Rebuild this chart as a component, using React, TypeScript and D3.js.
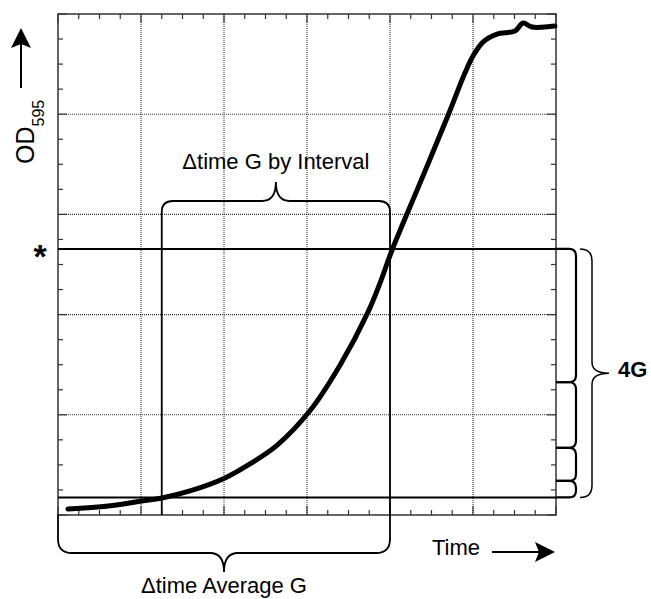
import React from 'react';
import * as d3 from 'd3';

// growth curve (time in arbitrary units, OD595)
const curveTime = [0.48, 2.41, 4.05, 5.01, 6.36, 8.05, 9.25, 10.55, 12.14, 13.59, 14.94, 15.52, 16.1, 17.45, 18.8, 19.61, 20.0, 20.48, 21.16, 22.02, 22.41, 22.84, 23.95];
const curveOD = [0.012, 0.018, 0.028, 0.034, 0.048, 0.074, 0.102, 0.139, 0.208, 0.299, 0.405, 0.463, 0.529, 0.663, 0.798, 0.882, 0.916, 0.944, 0.96, 0.966, 0.982, 0.974, 0.976];

// OD levels of the doublings (bottom line ... star line)
const doublingOD = [0.035, 0.068, 0.134, 0.265, 0.531];

const averageStart = 0;
const intervalStart = 5;
const intervalEnd = 16;

const xMax = 24;
const yMax = 1;

const font = '"Liberation Sans", Arial, Helvetica, sans-serif';

function App() {
  const x = d3.scaleLinear().domain([0, xMax]).range([58, 556]);
  const y = d3.scaleLinear().domain([0, yMax]).range([515, 14]);

  const points: [number, number][] = curveTime.map((t, i) => [t, curveOD[i]]);
  const line = d3.line<[number, number]>()
    .x(d => x(d[0]))
    .y(d => y(d[1]))
    .curve(d3.curveCatmullRom.alpha(0.5));

  const xTicks = x.ticks(24);
  const yTicks = y.ticks(20);
  const isMajorX = (v: number) => Math.abs(v / 4 - Math.round(v / 4)) < 1e-6;
  const isMajorY = (v: number) => Math.abs(v * 5 - Math.round(v * 5)) < 1e-6;

  const [x0, x1] = x.range();
  const [yb, yt] = y.range();

  // top brace with the two interval lines
  const xa = x(intervalStart), xe = x(intervalEnd), xm = (xa + xe) / 2;
  const by = 201, tip = 182, r = 11;
  const topBrace = `M${xa},${yb} V${by + r} Q${xa},${by} ${xa + r},${by} H${xm - 14} Q${xm},${by} ${xm},${tip} Q${xm},${by} ${xm + 14},${by} H${xe - r} Q${xe},${by} ${xe},${by + r} V${540}`;

  // bottom brace
  const xs = x(averageStart), xbm = (xs + xe) / 2;
  const bb = 553, btip = 572;
  const bottomBrace = `M${xs},${yb} V${bb - 14} Q${xs},${bb} ${xs + 14},${bb} H${xbm - 14} Q${xbm},${bb} ${xbm},${btip} Q${xbm},${bb} ${xbm + 14},${bb} H${xe - 14} Q${xe},${bb} ${xe},${bb - 14}`;

  // small braces along the right axis, one per doubling
  const vx = 576;
  const smallBraces = doublingOD.slice(0, -1).map((od, i) => {
    const ytop = y(doublingOD[i + 1]);
    const ybot = y(od);
    const rr = Math.min(7, (ybot - ytop) / 2 - 1);
    return `M${x1},${ytop} H${vx - rr} Q${vx},${ytop} ${vx},${ytop + rr} V${ybot - rr} Q${vx},${ybot} ${vx - rr},${ybot} H${x1}`;
  });

  // big 4G brace
  const gTop = y(doublingOD[doublingOD.length - 1]);
  const gBot = y(doublingOD[0]);
  const gMid = (gTop + gBot) / 2;
  const bigBrace = `M580,${gTop} Q592,${gTop} 592,${gTop + 12} V${gMid - 11} Q592,${gMid} 609,${gMid} Q592,${gMid} 592,${gMid + 11} V${gBot - 12} Q592,${gBot} 580,${gBot}`;

  return (
    <svg width={651} height={599} style={{ position: 'absolute', left: 0, top: 0, background: '#fff' }} fontFamily={font}>
      {/* dotted grid */}
      <g stroke="#333" strokeWidth={1.1} strokeDasharray="1 1">
        {xTicks.filter(v => isMajorX(v) && v > 0 && v < xMax).map(v => (
          <line key={'gx' + v} x1={x(v)} x2={x(v)} y1={yt} y2={yb} />
        ))}
        {yTicks.filter(v => isMajorY(v) && v > 0 && v < yMax).map(v => (
          <line key={'gy' + v} x1={x0} x2={x1} y1={y(v)} y2={y(v)} />
        ))}
      </g>

      {/* ticks on all four sides */}
      <g stroke="#333" strokeWidth={1.2}>
        {xTicks.map(v => {
          const len = isMajorX(v) ? 9 : 5;
          return (
            <g key={'tx' + v}>
              <line x1={x(v)} x2={x(v)} y1={yb} y2={yb - len} />
              <line x1={x(v)} x2={x(v)} y1={yt} y2={yt + len} />
            </g>
          );
        })}
        {yTicks.map(v => {
          const len = isMajorY(v) ? 9 : 5;
          return (
            <g key={'ty' + v}>
              <line x1={x0} x2={x0 + len} y1={y(v)} y2={y(v)} />
              <line x1={x1} x2={x1 - len} y1={y(v)} y2={y(v)} />
            </g>
          );
        })}
      </g>

      <rect x={x0} y={yt} width={x1 - x0} height={yb - yt} fill="none" stroke="#333" strokeWidth={1.5} />

      {/* doubling reference lines */}
      <g stroke="#000" strokeWidth={2}>
        <line x1={x0} x2={x1} y1={y(doublingOD[0])} y2={y(doublingOD[0])} />
        <line x1={x0} x2={x1} y1={gTop} y2={gTop} />
      </g>

      <path d={topBrace} fill="none" stroke="#000" strokeWidth={1.8} />
      <path d={bottomBrace} fill="none" stroke="#000" strokeWidth={1.8} />
      {smallBraces.map((d, i) => (
        <path key={'sb' + i} d={d} fill="none" stroke="#000" strokeWidth={2.2} />
      ))}
      <path d={bigBrace} fill="none" stroke="#000" strokeWidth={1.5} />

      {/* growth curve */}
      <path d={line(points) || ''} fill="none" stroke="#000" strokeWidth={5} strokeLinejoin="round" strokeLinecap="round" />

      {/* labels */}
      <text x={xm} y={169} fontSize={22} textAnchor="middle">Δtime G by Interval</text>
      <text x={xbm} y={593} fontSize={22} textAnchor="middle">Δtime Average G</text>
      <text x={432} y={555} fontSize={22}>Time</text>
      <line x1={492} x2={540} y1={552} y2={552} stroke="#000" strokeWidth={2} />
      <path d="M555,552 L535,542 L539,552 L535,562 Z" fill="#000" />
      <text x={618} y={377} fontSize={22} fontWeight="bold">4G</text>
      <text x={40} y={268} fontSize={34} fontWeight="bold" textAnchor="middle">*</text>

      <g transform="translate(34,164) rotate(-90)">
        <text fontSize={25}>
          OD<tspan fontSize={16} dy={10}>595</tspan>
        </text>
      </g>
      <line x1={21} x2={21} y1={88} y2={42} stroke="#000" strokeWidth={2} />
      <path d="M21,28 L11,48 L21,44 L31,48 Z" fill="#000" />
    </svg>
  );
}

export default App;
